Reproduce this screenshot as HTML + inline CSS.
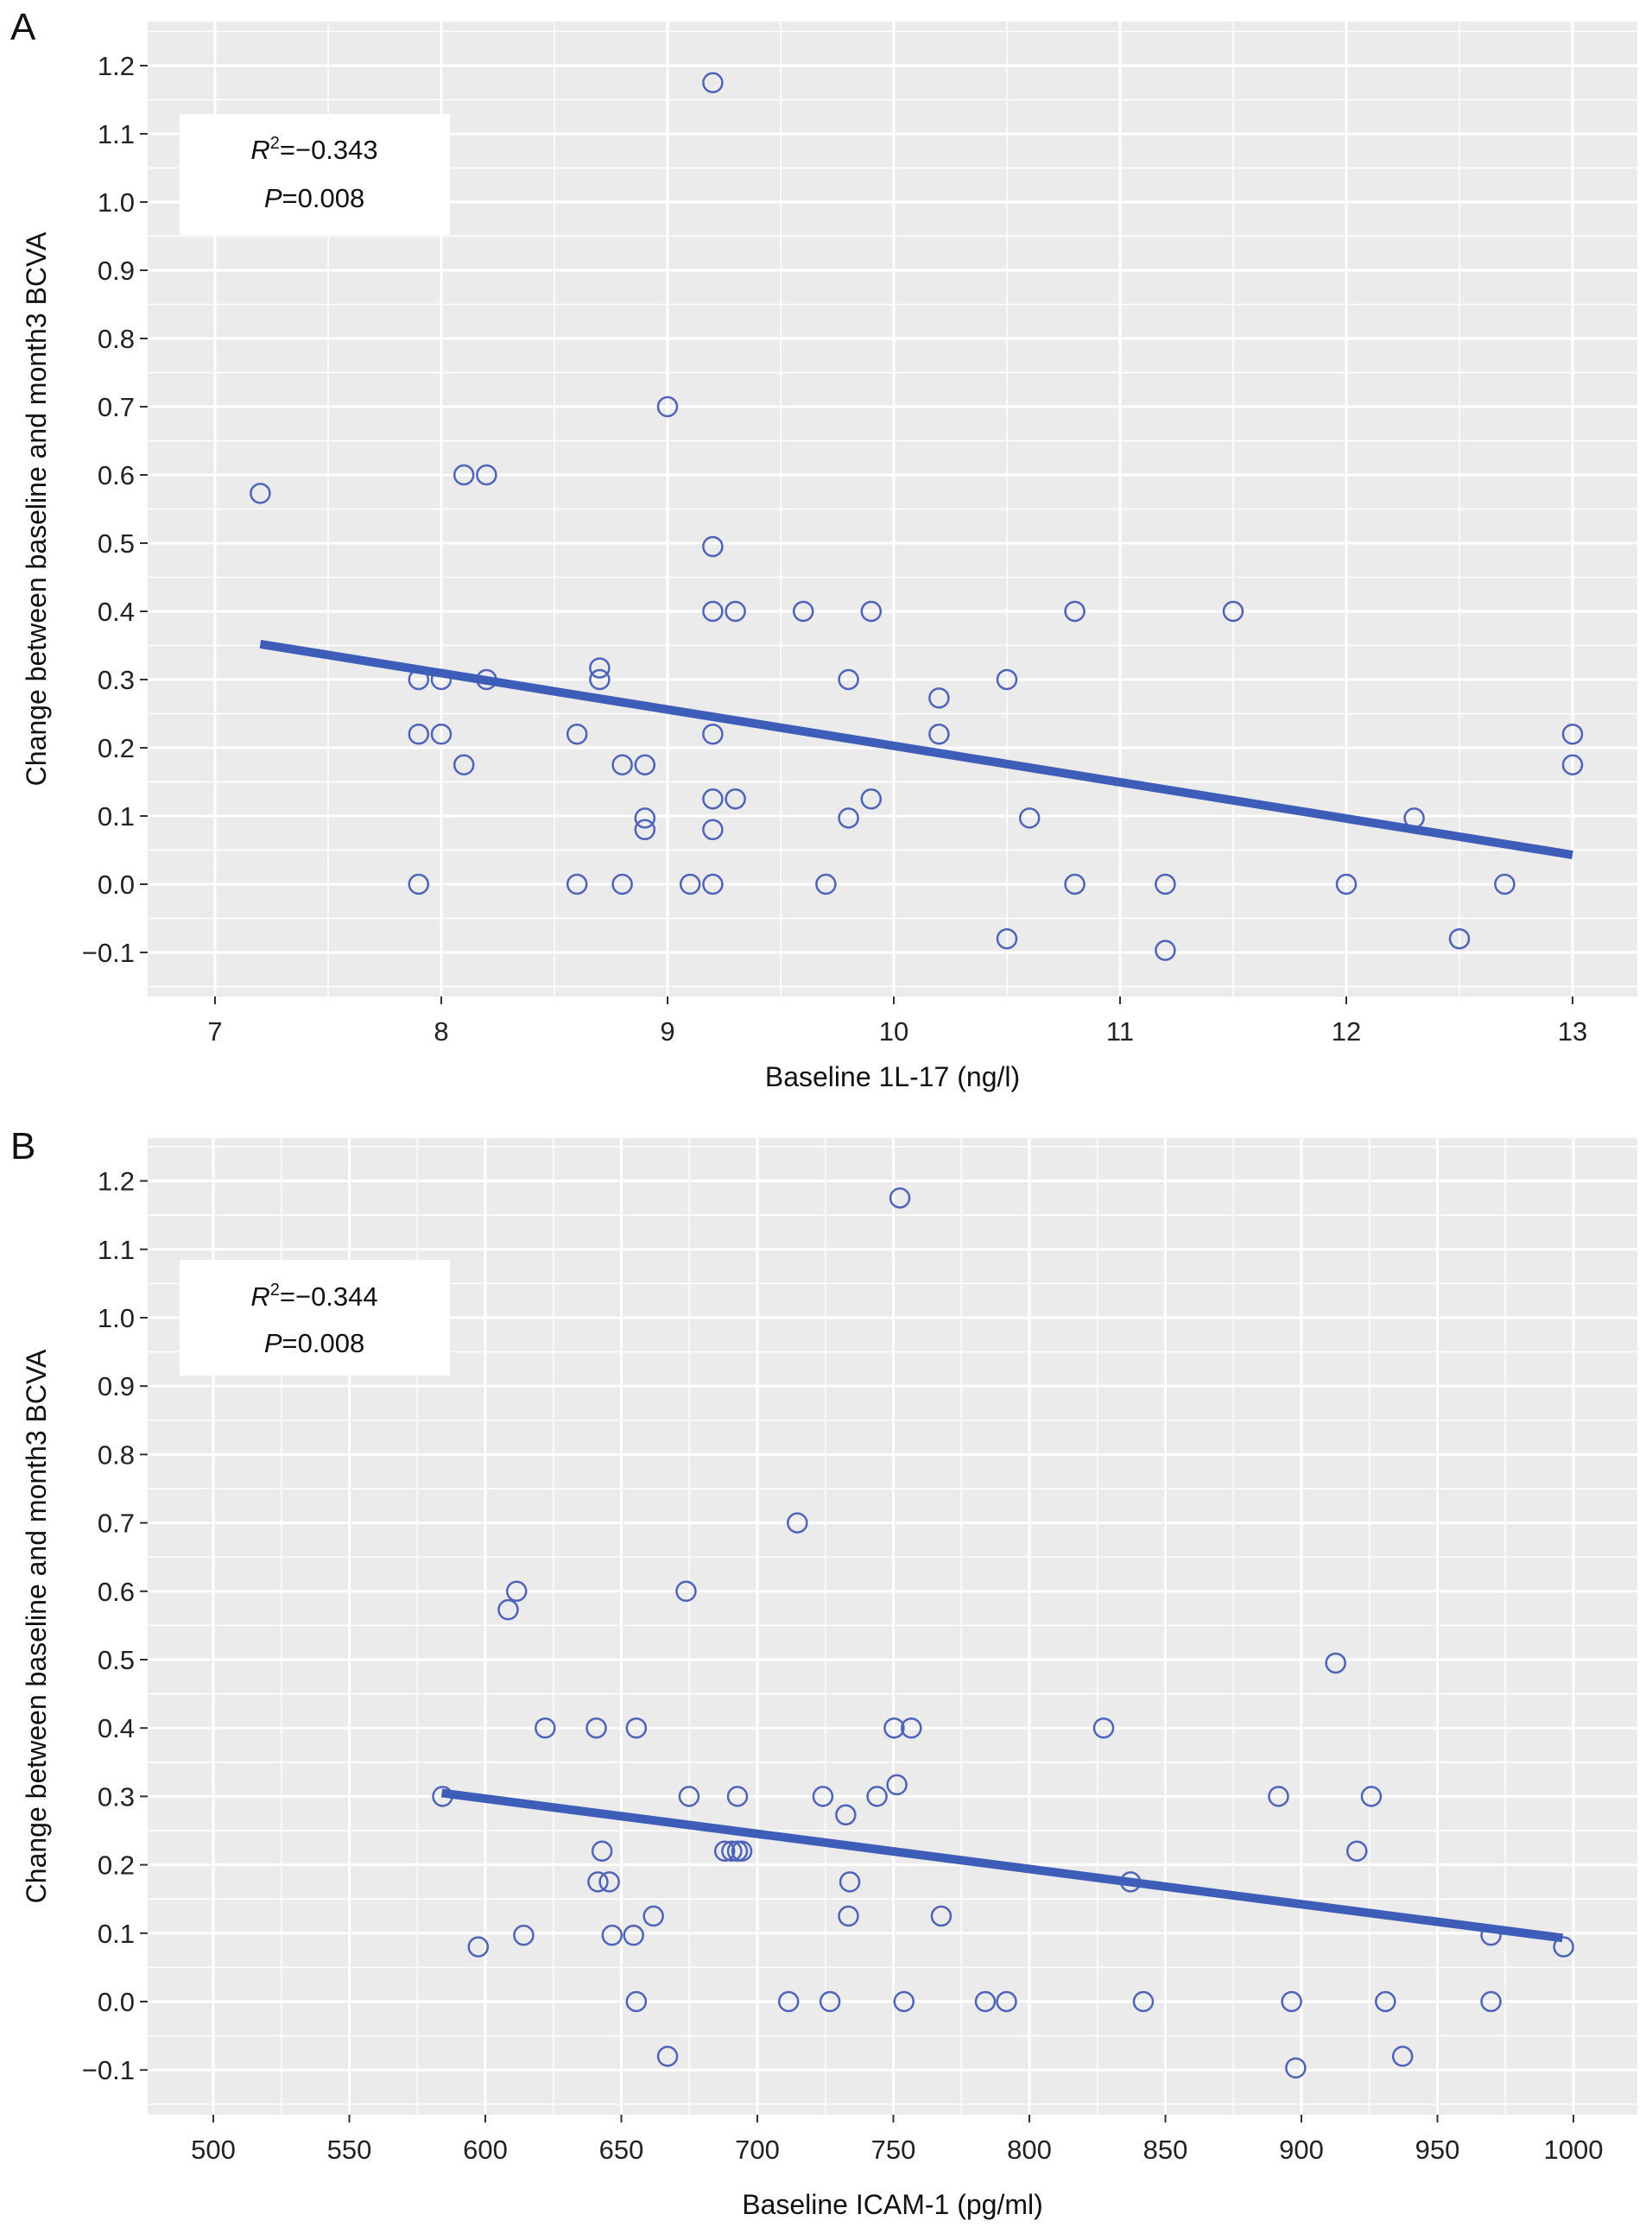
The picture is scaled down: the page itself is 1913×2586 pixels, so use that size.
<!DOCTYPE html>
<html><head><meta charset="utf-8"><style>
html,body{margin:0;padding:0;background:#fff;}
svg{display:block;font-family:"Liberation Sans",Arial,sans-serif;}
</style></head><body>
<svg id="fig" width="1913" height="2586" viewBox="0 0 1913 2586" xmlns="http://www.w3.org/2000/svg"></svg>
<script>
const aX=[7.2,7.9,7.9,7.9,8.0,8.0,8.1,8.1,8.2,8.2,8.6,8.6,8.7,8.7,8.8,8.8,8.9,8.9,8.9,9.0,9.1,9.2,9.2,9.2,9.2,9.2,9.2,9.2,9.3,9.3,9.6,9.7,9.8,9.8,9.9,9.9,10.2,10.2,10.5,10.5,10.6,10.8,10.8,11.2,11.2,11.5,12.0,12.3,12.5,12.7,13.0,13.0];
const aY=[0.573,0.3,0.22,0,0.3,0.22,0.6,0.175,0.6,0.3,0.22,0,0.317,0.3,0.175,0,0.175,0.097,0.08,0.7,0,1.175,0.495,0.4,0.22,0.125,0.08,0,0.4,0.125,0.4,0,0.3,0.097,0.4,0.125,0.273,0.22,0.3,-0.08,0.097,0.4,0,0,-0.097,0.4,0,0.097,-0.08,0,0.22,0.175];
const aFit=[[7.2,0.352],[13.0,0.043]];
const bX=[584.3,597.4,608.4,611.5,614.1,622.0,640.8,641.4,642.9,645.6,646.6,654.5,655.5,655.5,661.8,667.0,673.8,674.9,688.0,690.6,692.7,694.3,692.7,711.5,714.7,724.1,726.7,732.5,733.5,734.0,744.0,750.3,751.3,752.4,753.9,756.6,767.6,783.8,791.6,827.3,837.2,841.9,891.6,896.4,897.9,912.6,920.4,925.7,930.9,937.2,969.7,969.7,996.4];
const bY=[0.3,0.08,0.573,0.6,0.097,0.4,0.4,0.175,0.22,0.175,0.097,0.097,0.4,0,0.125,-0.08,0.6,0.3,0.22,0.22,0.3,0.22,0.22,0,0.7,0.3,0,0.273,0.125,0.175,0.3,0.4,0.317,1.175,0,0.4,0.125,0,0,0.4,0.175,0,0.3,0,-0.097,0.495,0.22,0.3,0,-0.08,0.097,0,0.08];
const bFit=[[584,0.305],[996,0.093]];
const yTicks=[-0.1,0.0,0.1,0.2,0.3,0.4,0.5,0.6,0.7,0.8,0.9,1.0,1.1,1.2];
const aXTicks=[7,8,9,10,11,12,13];
const bXTicks=[500,550,600,650,700,750,800,850,900,950,1000];

const NS="http://www.w3.org/2000/svg";
const svg=document.getElementById('fig');
function mk(tag,attrs,parent,name){const e=document.createElementNS(NS,tag);for(const k in attrs)e.setAttribute(k,attrs[k]);


(parent||svg).appendChild(e);return e;}

function panel(cfg){
  const g=mk('g',{},svg,cfg.id);
  const L=171,R=1896,T=cfg.top,B=cfg.bottom;
  const sx=v=>cfg.x0px+(v-cfg.x0)*cfg.xs;
  const sy=v=>cfg.y0px-v*cfg.ys;
  mk('rect',{x:L,y:T,width:R-L,height:B-T,fill:'#ebebeb'},g,'plot-background');
  for(let i=0;i<cfg.xt.length-1;i++){const m=(cfg.xt[i]+cfg.xt[i+1])/2;mk('line',{x1:sx(m),x2:sx(m),y1:T,y2:B,stroke:'#fff','stroke-width':1.5},g,'minor-gridline-x');}
  {const m=cfg.xt[0]-cfg.step/2;if(sx(m)>L)mk('line',{x1:sx(m),x2:sx(m),y1:T,y2:B,stroke:'#fff','stroke-width':1.5},g,'minor-gridline-x');
   const m2=cfg.xt[cfg.xt.length-1]+cfg.step/2;if(sx(m2)<R)mk('line',{x1:sx(m2),x2:sx(m2),y1:T,y2:B,stroke:'#fff','stroke-width':1.5},g,'minor-gridline-x');}
  for(let i=-1;i<yTicks.length;i++){const m=(i<0?yTicks[0]-0.05:yTicks[i]+0.05);const y=sy(m);if(y>T&&y<B)mk('line',{x1:L,x2:R,y1:y,y2:y,stroke:'#fff','stroke-width':1.5},g,'minor-gridline-y');}
  cfg.xt.forEach(v=>{const x=sx(v);
    mk('line',{x1:x,x2:x,y1:T,y2:B,stroke:'#fff','stroke-width':3},g,'major-gridline-x');
    mk('line',{x1:x,x2:x,y1:B,y2:B+9,stroke:'#333','stroke-width':2},g,'x-tick');
    const t=mk('text',{x:x,y:B+51,'text-anchor':'middle','font-size':31,fill:'#222'},g,'x-tick-label');t.textContent=v;});
  yTicks.forEach(v=>{const y=sy(v);
    mk('line',{x1:L,x2:R,y1:y,y2:y,stroke:'#fff','stroke-width':3},g,'major-gridline-y');
    mk('line',{x1:L-9,x2:L,y1:y,y2:y,stroke:'#333','stroke-width':2},g,'y-tick');
    const t=mk('text',{x:L-15,y:y+11,'text-anchor':'end','font-size':31,fill:'#222'},g,'y-tick-label');t.textContent=(v<0?'\u2212':'')+Math.abs(v).toFixed(1);});
  cfg.xs_.forEach((v,i)=>{mk('circle',{cx:sx(v),cy:sy(cfg.ys_[i]),r:11,fill:'none',stroke:'#4f63b8','stroke-width':2.5},g,'data-point');});
  mk('line',{x1:sx(cfg.fit[0][0]),y1:sy(cfg.fit[0][1]),x2:sx(cfg.fit[1][0]),y2:sy(cfg.fit[1][1]),stroke:'#3d5db8','stroke-width':10},g,'regression-line');
  const ag=mk('g',{},g,'stats-annotation');
  mk('rect',{x:208,y:cfg.boxY,width:313,height:cfg.boxH,fill:'#fff'},ag,'annotation-box');
  const t1=mk('text',{x:364,y:cfg.r2Y,'text-anchor':'middle','font-size':31,fill:'#111'},ag,'r-squared-text');
  t1.innerHTML='<tspan font-style="italic">R</tspan><tspan dy="-12" font-size="20">2</tspan><tspan dy="12">=\u2212'+cfg.r2+'</tspan>';
  const t2=mk('text',{x:364,y:cfg.pY,'text-anchor':'middle','font-size':31,fill:'#111'},ag,'p-value-text');
  t2.innerHTML='<tspan font-style="italic">P</tspan>=0.008';
  const xt=mk('text',{x:(L+R)/2,y:cfg.xTitleY,'text-anchor':'middle','font-size':32,fill:'#111'},g,'x-axis-title');xt.textContent=cfg.xTitle;
  const yc=(T+B)/2;
  const yt=mk('text',{x:0,y:0,'text-anchor':'middle','font-size':32,fill:'#111',transform:`translate(53,${yc}) rotate(-90)`},g,'y-axis-title');yt.textContent='Change between baseline and month3 BCVA';
  const pl=mk('text',{x:12,y:cfg.labelY,'font-size':44,fill:'#111'},g,'panel-label');pl.textContent=cfg.label;
}
panel({id:'panel-a',top:25,bottom:1154,x0:7,x0px:249,xs:262,y0px:1024,ys:790,xt:aXTicks,step:1,xs_:aX,ys_:aY,fit:aFit,boxY:132,boxH:140,r2Y:184,pY:240,r2:'0.343',xTitle:'Baseline 1L-17 (ng/l)',xTitleY:1258,label:'A',labelY:46});
panel({id:'panel-b',top:1318,bottom:2449,x0:500,x0px:247,xs:3.15,y0px:2318,ys:792,xt:bXTicks,step:50,xs_:bX,ys_:bY,fit:bFit,boxY:1459,boxH:134,r2Y:1512,pY:1566,r2:'0.344',xTitle:'Baseline ICAM-1 (pg/ml)',xTitleY:2564,label:'B',labelY:1342});
</script>
</body></html>
